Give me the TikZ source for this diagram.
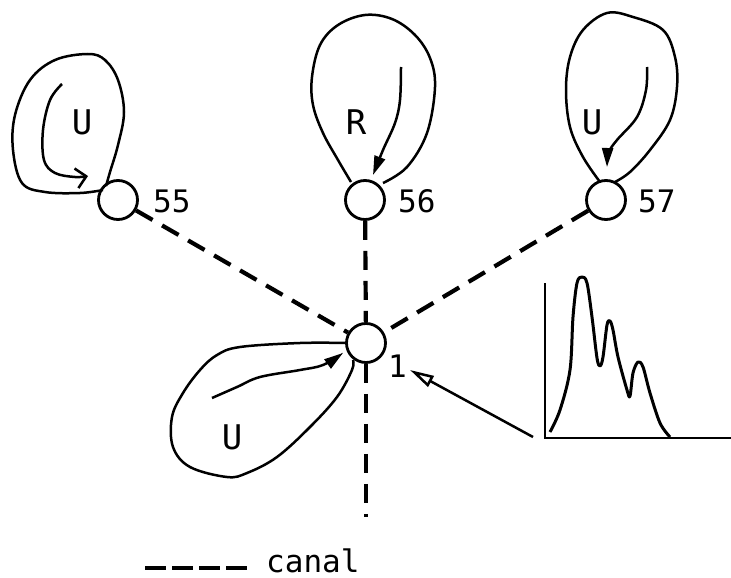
\documentclass[tikz,border=0pt]{standalone}
\usepackage{fontspec}
\newfontfamily\monof{DejaVu Sans Mono}
\usetikzlibrary{arrows.meta}
\begin{document}
\begin{tikzpicture}[x=1pt,y=-1pt,
  site/.style={circle,draw,line width=2.8pt,minimum size=39pt,inner sep=0pt},
  canal/.style={line width=4.2pt,dash pattern=on 19pt off 11pt},
  loopline/.style={line width=2.5pt,line join=round},
  flowthin/.style={line width=2.5pt,-{Straight Barb[length=10pt,width=20pt,line width=2.5pt]}},
  flowfill/.style={line width=2.5pt,-{Triangle[length=19pt,width=11pt]}},
  numlab/.style={font=\monof\fontsize{31}{31}\selectfont,inner sep=0pt,anchor=base west},
  letlab/.style={font=\monof\fontsize{34}{34}\selectfont,inner sep=0pt}]
\useasboundingbox (0,0) rectangle (731,578);

% sites
\node[site] (n55) at (118,200) {};
\node[site] (n56) at (365,200) {};
\node[site] (n57) at (606,200) {};
\node[site] (n1) at (366,343) {};
\node[numlab] (l55) at (153,212) {55};
\node[numlab] (l56) at (398,212) {56};
\node[numlab] (l57) at (638,212) {57};
\node[numlab] (l1) at (388,377) {1};

% channels
\coordinate (vend) at (366,517);
\draw[canal] (n55) -- (n1);
\draw[canal] (n56) -- (n1);
\draw[canal] (n57) -- (n1);
\draw[canal] (n1) -- (vend);

% loop 55
\draw[loopline] plot[smooth,tension=0.6] coordinates {(103,190) (80,193) (45,192) (22,183) (13,150) (15,115) (30,80) (55,60) (88,54) (105,60) (118,80) (124,112) (118,145) (110,172) (106,186)};
\draw[flowthin] plot[smooth,tension=0.6] coordinates {(62,84) (50,100) (43,130) (44,160) (55,173) (75,177) (88,176)};
\node[letlab] (u55) at (82,122) {U};

% loop 56
\draw[loopline] plot[smooth,tension=0.6] coordinates {(351,182) (338,160) (323,133) (313,105) (312,77) (320,45) (338,25) (365,15) (392,19) (415,35) (430,58) (435,87) (427,133) (407,167) (383,183)};
\draw[flowfill] plot[smooth,tension=0.6] coordinates {(401,67) (400,100) (395,123) (383,150) (373,175)};
\node[letlab] (r56) at (356,122) {R};

% loop 57
\draw[loopline] plot[smooth,tension=0.6] coordinates {(600,182) (583,157) (570,127) (566,90) (570,57) (583,30) (607,13) (633,17) (663,30) (675,57) (677,87) (670,120) (650,150) (630,172) (615,182)};
\draw[flowfill] plot[smooth,tension=0.6] coordinates {(647,67) (646,90) (637,117) (617,140) (609,152) (607,167)};
\node[letlab] (u57) at (592,122) {U};

% loop 1
\draw[loopline] plot[smooth,tension=0.6] coordinates {(346,343) (300,343) (240,347) (217,355) (200,370) (183,393) (172,417) (173,447) (190,467) (227,477) (247,473) (277,457) (310,427) (337,397) (352,370) (353,360)};
\draw[flowfill] plot[smooth,tension=0.6] coordinates {(212,398) (237,387) (260,377) (300,370) (323,365) (343,353)};
\node[letlab] (u1) at (232,437) {U};

% histogram
\coordinate (ytop) at (545,283);
\coordinate (orig) at (545,438);
\coordinate (xend) at (731,438);
\draw[line width=2.8pt] (ytop) -- (orig) -- (xend);
\draw[line width=3pt,line join=round] plot[smooth,tension=0.55] coordinates {(550,432) (560,410) (570,370) (573,317) (577,283) (582,277) (587,283) (592,317) (597,358) (600,366) (603,357) (607,325) (610,321) (613,330) (618,357) (627,390) (630,396) (633,373) (638,362) (643,367) (650,393) (660,423) (670,437)};

% pointer
\coordinate (ptail) at (533,437);
\coordinate (ptip) at (410,370);
\draw[line width=2.5pt,-{Triangle[open,length=24pt,width=12pt,line width=2.5pt]}] (ptail) -- (ptip);

% legend
\coordinate (lg1) at (145,568);
\coordinate (lg2) at (250,568);
\draw[line width=4.2pt,dash pattern=on 21pt off 6pt] (lg1) -- (lg2);
\node[numlab] (canal) at (266,572) {canal};
\end{tikzpicture}
\end{document}
